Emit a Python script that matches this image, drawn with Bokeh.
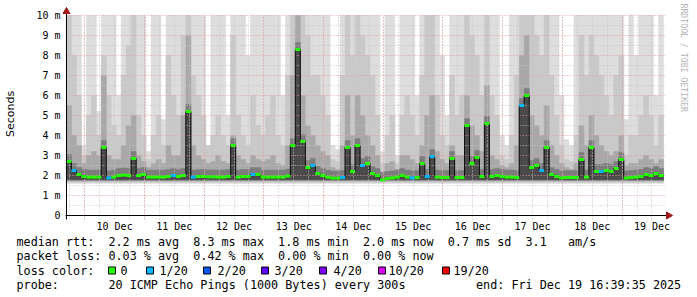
from datetime import datetime, timedelta
from bokeh.plotting import figure
from bokeh.layouts import column
from bokeh.models import FixedTicker, DatetimeTickFormatter, Range1d, Title
from bokeh.core.properties import value
from bokeh.embed import file_html
from bokeh.resources import INLINE

# ---------------- data ----------------
start = datetime(2025, 12, 9, 16, 39, 35)
end = datetime(2025, 12, 19, 16, 39, 35)

# median rtt per 2-hour step (ms)
median_ms = [
    2.7, 2.25, 2.05, 1.95, 1.92, 1.92, 1.92, 3.4, 1.88, 1.92,
    2.0, 2.02, 2.0, 2.85, 2.0, 2.05, 1.92, 1.92, 1.92, 1.92,
    1.95, 2.0, 1.95, 2.0, 5.2, 1.92, 1.95, 1.95, 1.93, 1.93,
    1.92, 1.92, 1.95, 3.5, 1.92, 1.95, 1.95, 2.05, 2.05, 1.92,
    1.92, 1.92, 1.92, 1.92, 1.97, 3.5, 8.3, 3.7, 2.4, 2.5,
    2.1, 2.0, 1.92, 1.87, 1.87, 1.9, 3.4, 2.2, 3.5, 2.5,
    2.6, 2.1, 2.0, 1.78, 1.85, 1.88, 1.92, 2.0, 1.92, 1.88,
    1.9, 2.6, 1.95, 2.95, 1.92, 1.9, 1.9, 2.85, 1.9, 1.9,
    4.5, 2.6, 2.9, 1.95, 4.6, 1.95, 2.0, 1.95, 1.92, 1.92,
    1.9, 5.5, 6.0, 2.4, 2.5, 2.25, 3.4, 2.05, 1.95, 1.88,
    1.9, 1.9, 1.9, 2.8, 1.92, 3.4, 2.2, 2.2, 2.25, 2.2,
    2.35, 2.8, 1.87, 1.9, 1.92, 1.95, 2.05, 2.0, 2.1, 2.0,
]
# lost pings out of 20 per step
loss = [
    0, 1, 0, 0, 0, 0, 0, 0, 1, 0,
    0, 0, 0, 0, 0, 0, 0, 0, 0, 0,
    0, 1, 0, 0, 0, 1, 0, 0, 0, 0,
    0, 0, 0, 0, 0, 0, 0, 1, 0, 0,
    0, 0, 0, 0, 0, 0, 0, 0, 0, 1,
    0, 0, 0, 0, 0, 1, 0, 0, 0, 1,
    0, 0, 0, 0, 0, 0, 0, 0, 0, 1,
    0, 0, 1, 1, 0, 0, 0, 0, 0, 0,
    0, 0, 0, 0, 0, 0, 0, 0, 0, 0,
    0, 1, 0, 0, 0, 1, 0, 0, 0, 0,
    0, 0, 0, 0, 0, 0, 0, 1, 0, 0,
    0, 0, 0, 0, 0, 0, 0, 0, 0, 0,
]
# smoke: top of outer (lightest) band, of middle band and of inner band (ms)
smoke_top = [
    10, 10, 10, 3.5, 10, 10, 5.2, 10, 10, 10,
    6, 10, 10, 10, 10, 10, 3.2, 10, 10, 4.8,
    10, 10, 10, 10, 10, 10, 10, 10, 3.5, 10,
    10, 10, 5, 10, 10, 10, 8, 10, 10, 10,
    10, 10, 10, 6, 10, 10, 10, 10, 10, 10,
    10, 10, 10, 3.5, 3.3, 10, 10, 10, 10, 10,
    10, 10, 10, 3.2, 10, 10, 3.0, 10, 10, 10,
    6, 10, 10, 10, 10, 8, 5, 10, 10, 10,
    10, 10, 10, 10, 10, 10, 10, 4, 3.5, 10,
    10, 10, 10, 10, 10, 10, 10, 10, 10, 6,
    3.8, 3.5, 10, 10, 10, 10, 10, 10, 10, 10,
    10, 10, 4.8, 10, 8, 10, 10, 10, 6, 10,
]
smoke_mid = [
    10, 8, 6, 3.0, 5, 6, 4, 8, 6, 4.5,
    4, 7, 8.5, 10, 5, 4, 2.8, 4, 5, 3.5,
    8, 6, 5, 9, 10, 7, 6, 5, 3.5, 4,
    5, 4, 3.5, 9, 5, 4, 3.5, 6, 4.5, 4,
    5, 6, 4, 3.5, 7, 10, 10, 10, 9, 7,
    7, 6, 5, 2.8, 2.7, 7, 10, 8, 10, 9,
    8, 7, 5, 2.6, 4, 5, 2.6, 5, 6, 5,
    4, 7, 10, 10, 6, 4, 3.5, 7, 5, 6,
    10, 9, 8, 6, 10, 6, 5, 3, 2.8, 4,
    7, 10, 10, 10, 9, 8, 10, 7, 5, 3.5,
    2.8, 2.7, 4, 9, 7, 9, 8, 7, 6, 5,
    7, 8, 3, 4, 4, 5, 6, 5, 3.5, 5,
]
smoke_inner = [
    5.5, 4, 3.5, 2.6, 3, 3.2, 3, 7, 3, 2.8,
    2.8, 3.5, 4.5, 5, 3, 2.7, 2.4, 2.6, 2.8, 2.6,
    3.5, 3, 3, 5, 9, 3.5, 3, 2.8, 2.6, 2.7,
    3, 2.7, 2.6, 4, 3, 2.8, 2.6, 3, 2.8, 2.7,
    2.8, 3, 2.6, 2.5, 3.5, 7, 10, 6, 4.5, 4,
    3.5, 3.2, 3, 2.4, 2.3, 3.5, 6, 4, 6, 5,
    4, 3.5, 3, 2.2, 2.6, 2.7, 2.3, 3, 3, 2.8,
    2.6, 3.5, 5, 6, 3.2, 2.8, 2.6, 3.5, 3, 3,
    6, 4.5, 4, 3.2, 6.5, 3, 2.8, 2.5, 2.4, 2.6,
    3.5, 8, 9, 5, 4.5, 4, 5.5, 3.5, 3, 2.6,
    2.4, 2.3, 2.6, 4.5, 3.5, 5, 4, 3.5, 3.2, 3,
    3.2, 4, 2.5, 2.6, 2.6, 2.8, 3, 2.8, 2.6, 2.8,
]

y_ticks = [0, 1, 2, 3, 4, 5, 6, 7, 8, 9, 10]
y_tick_labels = ["0", "1 m", "2 m", "3 m", "4 m", "5 m", "6 m", "7 m", "8 m", "9 m", "10 m"]
loss_levels = [0, 1, 2, 3, 4, 10, 19]
loss_names = ["0", "1/20", "2/20", "3/20", "4/20", "10/20", "19/20"]
loss_colors = ["#26ff00", "#00b8ff", "#0059ff", "#5e00ff", "#7e00ff", "#dd00ff", "#ff0000"]

stats_rtt = ["median rtt:", "2.2 ms avg", "8.3 ms max", "1.8 ms min", "2.0 ms now",
             "0.7 ms sd", "3.1", "am/s"]
stats_loss = ["packet loss:", "0.03 % avg", "0.42 % max", "0.00 % min", "0.00 % now"]
probe_text = ["probe:", "20 ICMP Echo Pings (1000 Bytes) every 300s",
              "end: Fri Dec 19 16:39:35 2025"]
credit = "RRDTOOL / TOBI OETIKER"

# ---------------- geometry ----------------
n = len(median_ms)
step = (end - start) / n
lefts = [start + i * step for i in range(n)]
rights = [start + (i + 1) * step for i in range(n)]


def ms(dt):
    return (dt - datetime(1970, 1, 1)).total_seconds() * 1000.0


day0 = datetime(2025, 12, 10)
midnights = [ms(day0 + timedelta(days=d)) for d in range(10)]
noons = [ms(day0 + timedelta(days=d, hours=12)) for d in range(10)]
six_h = [ms(datetime(2025, 12, 9, 18) + timedelta(hours=6 * k)) for k in range(40)]

W = 697
H1 = 234
# data area 66..666 x 15..215 ; frame a little larger to hold axis arrows
FL, FR, FT, FB = 62, 674, 8, 219
px_t = (end - start) / 600.0          # time per pixel
px_v = 10.0 / 200.0                   # ms per pixel
x_lo = start - 4 * px_t
x_hi = end + 8 * px_t
y_lo = -4 * px_v
y_hi = 10 + 7 * px_v

p = figure(width=W, height=H1, x_axis_type="datetime", output_backend="svg",
           toolbar_location=None, min_border_left=FL, min_border_right=W - FR,
           min_border_top=FT, min_border_bottom=H1 - FB,
           x_range=Range1d(x_lo, x_hi), y_range=Range1d(y_lo, y_hi))
p.outline_line_color = None
p.background_fill_color = "white"
p.border_fill_color = "white"

# smoke layers
layers = [
    (1.60, smoke_top, "#dddddd"),
    (1.66, smoke_mid, "#c9c9c9"),
    (1.72, smoke_inner, "#a8a8a8"),
    (1.76, [m + 0.35 for m in median_ms], "#7c7c7c"),
    (1.80, median_ms, "#4a4a4a"),
]
for bottom, tops, col in layers:
    p.quad(left=lefts, right=rights, bottom=bottom, top=tops,
           fill_color=col, line_color=col, line_width=0.5)

# median line
p.step(x=lefts + [end], y=median_ms + [median_ms[-1]], mode="after",
       line_color="#111111", line_width=1, level="annotation")
seg_colors = [loss_colors[loss_levels.index(v)] for v in loss]
p.segment(x0=lefts, y0=median_ms, x1=rights, y1=median_ms,
          line_color=seg_colors, line_width=3, level="annotation")

# axis lines with arrow heads
arrow_col = "#a01818"
p.segment(x0=[x_lo + px_t * 3, start], y0=[0, y_lo], x1=[x_hi, start], y1=[0, y_hi],
          line_color="black", line_width=1, level="annotation")
p.scatter(x=[x_hi - 3 * px_t], y=[0], marker="triangle", size=7, angle=-1.5708,
          fill_color=arrow_col, line_color=arrow_col, level="annotation")
p.scatter(x=[start], y=[y_hi - 3 * px_v], marker="triangle", size=7,
          fill_color=arrow_col, line_color=arrow_col, level="annotation")

# axes
p.xaxis.ticker = FixedTicker(ticks=noons)
fmt = "%d %b"
p.xaxis.formatter = DatetimeTickFormatter(
    microseconds=fmt, milliseconds=fmt, seconds=fmt, minsec=fmt, minutes=fmt,
    hourmin=fmt, hours=fmt, days=fmt, months=fmt, years=fmt)
p.xaxis.major_tick_line_color = None
p.xaxis.minor_tick_line_color = None
p.xaxis.major_tick_out = 0
p.xaxis.major_tick_in = 0
p.xaxis.major_label_standoff = 1
p.yaxis.ticker = FixedTicker(ticks=y_ticks)
p.yaxis.major_label_overrides = {t: s for t, s in zip(y_ticks, y_tick_labels)}
p.yaxis.major_tick_line_color = None
p.yaxis.major_tick_in = 0
p.yaxis.major_tick_out = 0
p.yaxis.minor_tick_line_color = None
p.yaxis.major_label_standoff = 2
p.yaxis.axis_label = "Seconds"
p.yaxis.axis_label_text_font = "DejaVu Sans"
p.yaxis.axis_label_text_font_size = "11px"
p.yaxis.axis_label_text_font_style = "normal"
p.yaxis.axis_label_text_color = "black"
p.yaxis.axis_label_standoff = 16
for ax in (p.xaxis[0], p.yaxis[0]):
    ax.major_label_text_font = "DejaVu Sans Mono"
    ax.major_label_text_font_size = "10px"
    ax.major_label_text_color = "black"
    ax.axis_line_color = None

# grids
p.xgrid.ticker = FixedTicker(ticks=midnights, minor_ticks=six_h)
p.ygrid.ticker = FixedTicker(ticks=y_ticks, minor_ticks=[t + 0.5 for t in y_ticks[:-1]])
for g in (p.xgrid[0], p.ygrid[0]):
    g.grid_line_color = "#e39a9a"
    g.grid_line_dash = "1 2"
    g.minor_grid_line_color = "#c4c4c4"
    g.minor_grid_line_dash = "1 2"
    g.level = "guide"
if "cross_bounds" in p.xgrid[0].properties():
    p.xgrid[0].cross_bounds = (y_lo, 10)
    p.ygrid[0].cross_bounds = (ms(start), ms(end + 2 * px_t))

# right side credit
p.add_layout(Title(text=credit, text_font="DejaVu Sans Mono", text_font_size="8.2px",
                   text_font_style="normal", text_color="#b4b4b4", align="left",
                   offset=-5, standoff=14), "right")

# ---------------- bottom legend / stats ----------------
H2 = 297 - H1
q = figure(width=W, height=H2, output_backend="svg", toolbar_location=None,
           x_range=Range1d(0, W), y_range=Range1d(297, H1),
           min_border_left=0, min_border_right=0, min_border_top=0, min_border_bottom=0,
           x_axis_location=None, y_axis_location=None)
q.outline_line_color = None
q.grid.visible = False
q.background_fill_color = "white"
q.border_fill_color = "white"
for fig in (p, q):
    if "frame_align" in fig.properties():
        fig.frame_align = False

CW = 7.07
X0 = 16
xs, ys, ts = [], [], []
for c, s in zip([0, 13, 25, 37, 49, 61, 72, 78], stats_rtt):
    xs.append(X0 + c * CW); ys.append(241); ts.append(s)
for c, s in zip([0, 13, 25, 37, 49], stats_loss):
    xs.append(X0 + c * CW); ys.append(255.5); ts.append(s)
xs.append(X0); ys.append(270); ts.append("loss color:")
sq_x = [108, 146, 203, 261, 319, 378, 442]
lab_x = [120, 159, 217, 274, 333, 388, 453]
for lx, name in zip(lab_x, loss_names):
    xs.append(lx); ys.append(270); ts.append(name)
for c, s in zip([0, 13, 65], probe_text):
    xs.append(X0 + c * CW); ys.append(284.3); ts.append(s)

q.text(x=xs, y=ys, text=ts, text_font=value("DejaVu Sans Mono"),
       text_font_size=value("11.75px"), text_color="black",
       text_align="left", text_baseline="middle")
q.rect(x=[s + 3.5 for s in sq_x], y=270, width=7, height=7,
       fill_color=loss_colors, line_color="black", line_width=1)

layout = column(p, q, spacing=0)
open("out.html", "w").write(file_html(layout, INLINE))
